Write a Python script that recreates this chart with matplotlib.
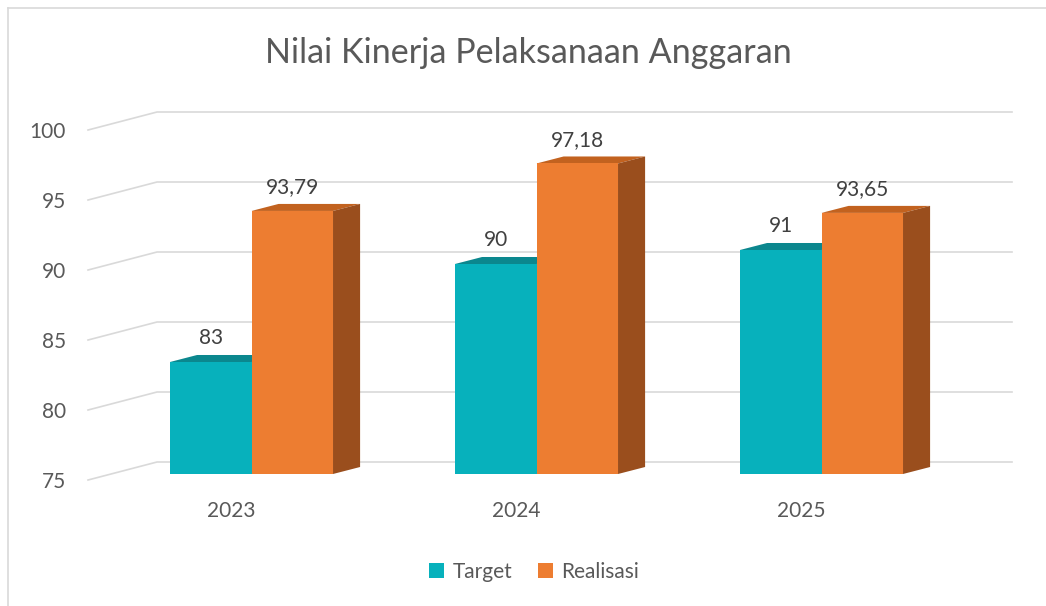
import matplotlib
matplotlib.use("Agg")
import matplotlib.pyplot as plt
from matplotlib.patches import Polygon, Patch
from matplotlib.lines import Line2D

plt.rcParams['font.family'] = ['Lato', 'DejaVu Sans']

# data
years = ["2023", "2024", "2025"]
target = [83, 90, 91]
realisasi = [93.79, 97.18, 93.65]
series_names = ["Target", "Realisasi"]
yticks = [75, 80, 85, 90, 95, 100]

TXT = '#595959'
GRID = '#D9D9D9'
front_cols = ['#07B1BC', '#ED7D31']
top_cols = ['#0B878E', '#C2621F']
side_cols = ['#08767C', '#9A4E1D']

# 3d look, in data units (1 category = 285 px, 1 unit = 14 px)
W = 0.286            # bar width
DDX, DDY = 0.095, 0.5   # bar depth
BASE = 75

fig = plt.figure(figsize=(10.46, 6.06), dpi=100)
ax = fig.add_axes([0, 0, 1, 1])
ax.set_xlim(-0.8825, 2.7877)
ax.set_ylim(65.571, 108.857)
ax.axis('off')

# walls gridlines
xl_front, xl_back, xr = -0.5737, -0.3316, 2.6684
for v in yticks:
    ax.plot([xl_front, xl_back, xr], [v - 0.43, v + 0.857, v + 0.857],
            color=GRID, lw=1.2, zorder=1, solid_joinstyle='miter')
    ax.text(-0.651, v - 0.55, str(v), ha='right', va='center',
            fontsize=15, color=TXT)


def bar3d(x0, v, k):
    front = Polygon([(x0, BASE), (x0 + W, BASE), (x0 + W, v), (x0, v)],
                    closed=True, fc=front_cols[k], ec='none', zorder=3)
    top = Polygon([(x0, v), (x0 + W, v), (x0 + W + DDX, v + DDY), (x0 + DDX, v + DDY)],
                  closed=True, fc=top_cols[k], ec='none', zorder=2)
    side = Polygon([(x0 + W, BASE), (x0 + W + DDX, BASE + DDY),
                    (x0 + W + DDX, v + DDY), (x0 + W, v)],
                   closed=True, fc=side_cols[k], ec='none', zorder=2)
    for p in (top, side, front):
        ax.add_patch(p)
    lab = f"{v:g}".replace('.', ',')
    ax.text(x0 + W / 2, v + 1.7, lab, ha='center', va='center',
            fontsize=15, color='#404040', zorder=5)


for i in range(len(years)):
    bar3d(i - W, target[i], 0)
    bar3d(i, realisasi[i], 1)
    ax.text(i - 0.072, 72.36, years[i], ha='center', va='center',
            fontsize=15, color=TXT)

fig.text(528 / 1046, 1 - 53 / 606, "Nilai Kinerja Pelaksanaan Anggaran",
         ha='center', va='center', fontsize=24.6, color=TXT)

handles = [Patch(fc=front_cols[0], ec='none'), Patch(fc=front_cols[1], ec='none')]
fig.legend(handles, series_names, loc='center', bbox_to_anchor=(534 / 1046, 1 - 572 / 606),
           ncol=2, frameon=False, fontsize=15, labelcolor=TXT,
           handlelength=0.75, handleheight=0.75, handletextpad=0.4, columnspacing=1.2)

# chart frame
fig.add_artist(Line2D([7.5 / 1046, 7.5 / 1046], [0, 1 - 7.5 / 606], color=GRID, lw=1.2))
fig.add_artist(Line2D([7.5 / 1046, 1], [1 - 7.5 / 606, 1 - 7.5 / 606], color=GRID, lw=1.2))

fig.savefig("out.png", dpi=100)
